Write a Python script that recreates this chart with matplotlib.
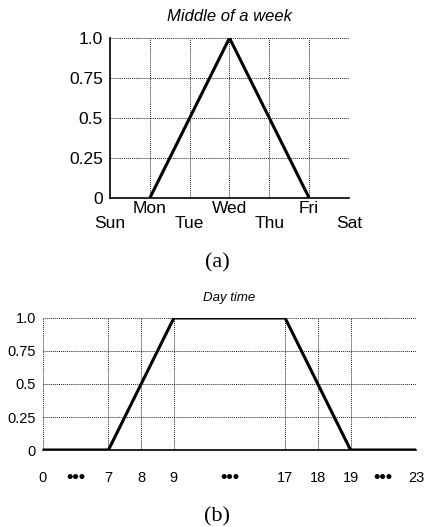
import numpy as np
import matplotlib
matplotlib.use('Agg')
import matplotlib.pyplot as plt

plt.rcParams['font.family'] = ['Liberation Sans', 'DejaVu Sans']

# (a) middle of a week
days = ['Sun', 'Mon', 'Tue', 'Wed', 'Thu', 'Fri', 'Sat']
week_x = ['Mon', 'Wed', 'Fri']
week_y = [0, 1.0, 0]

# (b) day time
hour_labels = ['0', '7', '8', '9', '17', '18', '19', '23']
hour_x = [0, 7, 9, 17, 19, 23]
hour_y = [0, 0, 1.0, 1.0, 0, 0]

y_ticks = [0, 0.25, 0.5, 0.75, 1.0]
y_labels = ['0', '0.25', '0.5', '0.75', '1.0']

# display slot of each labelled hour (axis is not linear in hours)
hour_slot = [0, 2, 3, 4, 7.4, 8.4, 9.4, 11.4]

fig = plt.figure(figsize=(4.29, 5.27), dpi=100)

grid_kw = dict(color='#222222', linestyle=(0, (1, 1)), linewidth=0.7)

# ---- top chart ----
ax1 = fig.add_axes([0.2564, 0.6243, 0.5571, 0.3036])
xpos = [days.index(d) for d in week_x]
ax1.plot(xpos, week_y, color='black', linewidth=2.2, solid_capstyle='butt')
ax1.set_xlim(0, len(days) - 1)
ax1.set_ylim(0, 1.0)
ax1.set_xticks([i for i, d in enumerate(days) if i % 2 == 1])
ax1.set_xticklabels([d for i, d in enumerate(days) if i % 2 == 1])
ax1.set_xticks([i for i, d in enumerate(days) if i % 2 == 0], minor=True)
ax1.set_xticklabels([d for i, d in enumerate(days) if i % 2 == 0], minor=True)
ax1.tick_params(axis='x', which='major', length=0, pad=2, labelsize=12.5)
ax1.tick_params(axis='x', which='minor', length=0, pad=13, labelsize=12.5)
ax1.set_yticks(y_ticks)
ax1.set_yticklabels(y_labels)
ax1.tick_params(axis='y', length=0, pad=5, labelsize=12.5)
for x in range(1, len(days)):
    ax1.axvline(x, **grid_kw, zorder=1)
for y in y_ticks[1:]:
    ax1.axhline(y, **grid_kw, zorder=1)
ax1.spines['top'].set_visible(False)
ax1.spines['right'].set_visible(False)
ax1.spines['left'].set_linewidth(1.2)
ax1.spines['bottom'].set_linewidth(1.2)
ax1.set_title('Middle of a week', fontsize=12, style='italic', pad=12)
fig.text(0.506, 0.501, '(a)', family='Liberation Serif', fontsize=16,
         ha='center', va='center')

# ---- bottom chart ----
ax2 = fig.add_axes([0.1002, 0.1461, 0.8695, 0.2505])
xs = np.interp(hour_x, [int(h) for h in hour_labels], hour_slot)
ax2.plot(xs, hour_y, color='black', linewidth=2.2, solid_capstyle='butt')
ax2.set_xlim(hour_slot[0], hour_slot[-1])
ax2.set_ylim(0, 1.0)
ax2.set_xticks(hour_slot)
ax2.set_xticklabels(hour_labels)
dots = [(hour_slot[0] + hour_slot[1]) / 2, (hour_slot[3] + hour_slot[4]) / 2,
        (hour_slot[6] + hour_slot[7]) / 2]
ax2.set_xticks(dots, minor=True)
ax2.set_xticklabels(['•••'] * len(dots), minor=True)
ax2.tick_params(axis='x', which='major', length=0, pad=15, labelsize=10.5)
ax2.tick_params(axis='x', which='minor', length=0, pad=14, labelsize=13)
for lab in ax2.get_xticklabels(minor=True):
    lab.set_fontweight('bold')
ax2.set_yticks(y_ticks)
ax2.set_yticklabels(y_labels)
ax2.tick_params(axis='y', length=0, pad=5, labelsize=10.5)
for x in hour_slot:
    ax2.axvline(x, **grid_kw, zorder=1)
for y in y_ticks[1:]:
    ax2.axhline(y, **grid_kw, zorder=1)
ax2.spines['top'].set_visible(False)
ax2.spines['right'].set_visible(False)
ax2.spines['left'].set_visible(False)
ax2.spines['bottom'].set_linewidth(1.2)
ax2.set_title('Day time', fontsize=9.5, style='italic', pad=12)
fig.text(0.506, 0.019, '(b)', family='Liberation Serif', fontsize=16,
         ha='center', va='center')

fig.savefig('out.png', dpi=100)
